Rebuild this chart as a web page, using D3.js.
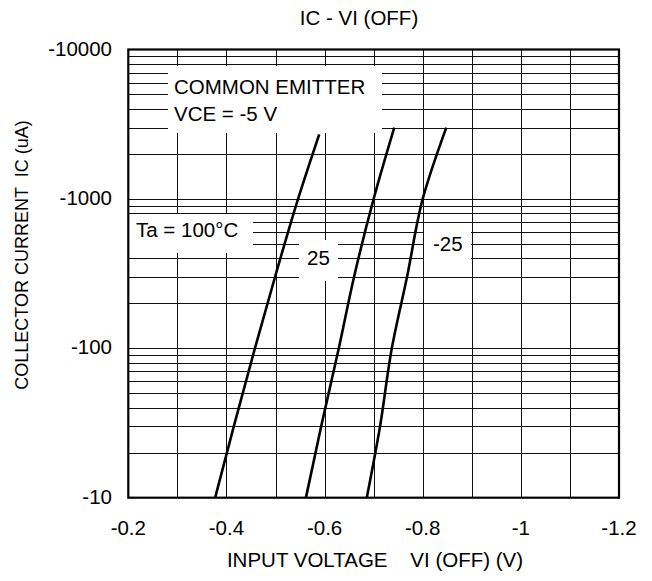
<!DOCTYPE html>
<html>
<head>
<meta charset="utf-8">
<script src="https://cdn.jsdelivr.net/npm/d3@7"></script>
<style>
  html, body { margin: 0; padding: 0; background: #fff; }
  svg { display: block; font-family: "Liberation Sans", Arial, sans-serif; }
</style>
</head>
<body>
<svg id="chart" width="652" height="581"></svg>
<script>
// ---- data (collector current in uA, input voltage in V) ----
const currents100 = [-10, -30, -100, -300, -1000, -2700];
const volts100    = [-0.377, -0.415, -0.458, -0.499, -0.546, -0.589];
const currents25  = [-10, -30, -100, -300, -1000, -3000];
const volts25     = [-0.562, -0.593, -0.629, -0.660, -0.700, -0.742];
const currentsM25 = [-10, -30, -100, -300, -1000, -3000];
const voltsM25    = [-0.686, -0.713, -0.737, -0.768, -0.800, -0.848];

const xTickValues = [-0.2, -0.4, -0.6, -0.8, -1.0, -1.2];
const xTickLabels = ["-0.2", "-0.4", "-0.6", "-0.8", "-1", "-1.2"];
const yTickValues = [-10, -100, -1000, -10000];
const yTickLabels = ["-10", "-100", "-1000", "-10000"];

const titleText  = "IC - VI (OFF)";
const xTitleText = "INPUT VOLTAGE \u00a0\u00a0 VI (OFF) (V)";
const yTitleText = "COLLECTOR CURRENT \u00a0IC (uA)";

// ---- layout ----
const L = 128.3, R = 619, T = 49.5, B = 497.7;
const FS = 20.5;

const svg = d3.select("#chart");
const x = d3.scaleLinear().domain([-0.2, -1.2]).range([L, R]);
const y = d3.scaleLog().domain([-10, -10000]).range([B, T]);

const snap = v => Math.round(v) + 0.5;

// grid: verticals every 0.1 V
const gx = d3.range(1, 10).map(i => -0.2 - i * 0.1);
svg.append("g").selectAll("line").data(gx).join("line")
  .attr("x1", d => snap(x(d))).attr("x2", d => snap(x(d)))
  .attr("y1", T).attr("y2", B)
  .attr("stroke", "#111").attr("stroke-width", 1);

// grid: horizontals 2..9 per decade
const gy = [];
[-10, -100, -1000].forEach(dec => { for (let k = 2; k <= 9; k++) gy.push(dec * k); });
[-100, -1000].forEach(v => gy.push(v));
svg.append("g").selectAll("line").data(gy).join("line")
  .attr("x1", L).attr("x2", R)
  .attr("y1", d => snap(y(d))).attr("y2", d => snap(y(d)))
  .attr("stroke", "#111").attr("stroke-width", 1);

// white label backgrounds (mask grid)
const boxes = [
  [168, 66, 382, 133],
  [129, 214, 253, 253],
  [299, 240, 338, 281],
  [424, 226, 471, 270]
];
svg.append("g").selectAll("rect").data(boxes).join("rect")
  .attr("x", d => d[0]).attr("y", d => d[1])
  .attr("width", d => d[2] - d[0]).attr("height", d => d[3] - d[1])
  .attr("fill", "#fff");

// annotations
const ann = svg.append("g").attr("font-size", FS).attr("fill", "#000");
ann.append("text").attr("x", 174).attr("y", 94).text("COMMON EMITTER");
ann.append("text").attr("x", 174).attr("y", 120.5).text("VCE = -5 V");
ann.append("text").attr("x", 136).attr("y", 237).text("Ta = 100°C");
ann.append("text").attr("x", 307).attr("y", 265).text("25");
ann.append("text").attr("x", 433).attr("y", 250.5).text("-25");

// curves
const line = d3.line().x(d => x(d[0])).y(d => y(d[1])).curve(d3.curveMonotoneY);
const series = [
  d3.zip(volts100, currents100),
  d3.zip(volts25, currents25),
  d3.zip(voltsM25, currentsM25)
];
svg.append("g").selectAll("path").data(series).join("path")
  .attr("d", line).attr("fill", "none")
  .attr("stroke", "#000").attr("stroke-width", 2.6);

// frame
svg.append("rect").attr("x", L).attr("y", T).attr("width", R - L).attr("height", B - T)
  .attr("fill", "none").attr("stroke", "#000").attr("stroke-width", 2.2);

// x tick labels
svg.append("g").selectAll("text").data(xTickValues).join("text")
  .attr("x", d => x(d)).attr("y", 535)
  .attr("text-anchor", "middle").attr("font-size", FS)
  .text((d, i) => xTickLabels[i]);

// y tick labels
svg.append("g").selectAll("text").data(yTickValues).join("text")
  .attr("x", 112).attr("y", d => y(d) + 6)
  .attr("text-anchor", "end").attr("font-size", FS)
  .text((d, i) => yTickLabels[i]);

// titles
svg.append("text").attr("x", 359).attr("y", 24.5).attr("text-anchor", "middle")
  .attr("font-size", FS).text(titleText);
svg.append("text").attr("x", 375).attr("y", 567).attr("text-anchor", "middle")
  .attr("font-size", FS).text(xTitleText);
svg.append("text").attr("transform", "translate(28,255) rotate(-90)")
  .attr("text-anchor", "middle").attr("font-size", 18).text(yTitleText);
</script>
</body>
</html>
